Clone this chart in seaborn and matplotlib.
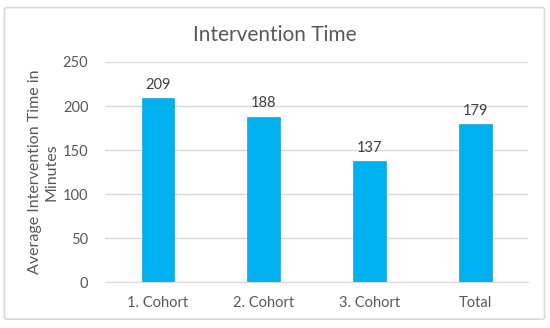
import matplotlib
matplotlib.use("Agg")
import matplotlib.pyplot as plt
import seaborn as sns
import pandas as pd
from matplotlib.patches import FancyBboxPatch

# values
groups = ["1. Cohort", "2. Cohort", "3. Cohort", "Total"]
minutes = [209, 188, 137, 179]
y_ticks = [0, 50, 100, 150, 200, 250]

df = pd.DataFrame({"Group": groups, "Minutes": minutes})

sns.set_style("white")
plt.rcParams["font.family"] = ["Lato", "DejaVu Sans"]

fig = plt.figure(figsize=(5.5, 3.28), dpi=100)
ax = fig.add_axes([0.191, 0.140, 0.769, 0.671])

sns.barplot(data=df, x="Group", y="Minutes", color="#00B0F0",
            width=0.31, saturation=1, edgecolor="#1AA3DB", linewidth=0.5, ax=ax)

for i, v in enumerate(minutes):
    ax.text(i, v + 7, str(v), ha="center", va="bottom", fontsize=10.5, color="#404040")

ax.set_ylim(0, 250)
ax.set_yticks(y_ticks)
ax.set_xlim(-0.5, len(groups) - 0.5)
ax.yaxis.grid(True, color="#D9D9D9", linewidth=1)
ax.set_axisbelow(True)
for s in ["top", "right", "left"]:
    ax.spines[s].set_visible(False)
ax.spines["bottom"].set_color("#D9D9D9")
ax.tick_params(axis="both", length=0, labelsize=10.5, labelcolor="#595959")
ax.tick_params(axis="y", pad=12)
ax.tick_params(axis="x", pad=10)
ax.set_xlabel("")
ax.set_ylabel("Average Intervention Time in\nMinutes", fontsize=11.5, color="#595959",
              linespacing=1.25, labelpad=3)

fig.suptitle("Intervention Time", x=0.5, y=0.925, fontsize=15, color="#595959")

border = FancyBboxPatch((0.008, 0.027), 0.982, 0.95, transform=fig.transFigure,
                        boxstyle="round,pad=0,rounding_size=0.005",
                        facecolor="none", edgecolor="#D9D9D9", linewidth=1.2)
fig.patches.append(border)

fig.savefig("out.png", dpi=100)
